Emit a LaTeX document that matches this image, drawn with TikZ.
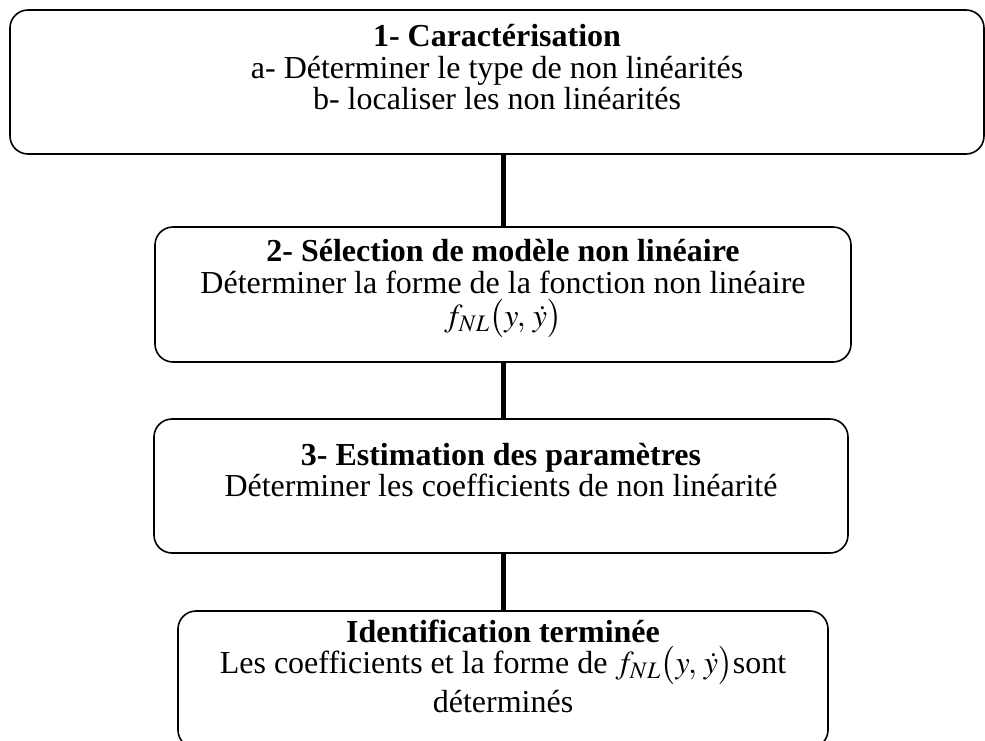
\documentclass[tikz,border=0pt]{standalone}
\usepackage{mathptmx}
\usepackage{fontspec}
\setmainfont{Liberation Serif}
\usetikzlibrary{positioning}
\tikzstyle{stepbox} = [rectangle, draw, line width=1.6pt, rounded corners=18pt, inner sep=0pt]
\tikzstyle{steptext} = [align=center, inner sep=0pt, font=\fontsize{32}{31.5}\selectfont]
\tikzstyle{link} = [line width=5pt]

\begin{document}
\begin{tikzpicture}[x=1pt,y=-1pt]
	\useasboundingbox (0,0) rectangle (985,740);
	% boxes
		\node [stepbox,minimum width=974pt,minimum height=144pt](b1) at (497,82){};
		\node [stepbox,minimum width=696pt,minimum height=135pt](b2) at (503,294.5){};
		\node [stepbox,minimum width=694pt,minimum height=134pt](b3) at (501,486){};
		\node [stepbox,minimum width=650pt,minimum height=137pt](b4) at (503,679.5){};
	% texts
		\node [steptext](t1) at (497,67.5){\textbf{1- Caractérisation}\\a- Déterminer le type de non linéarités\\b- localiser les non linéarités};
		\node [steptext](t2) at (503,288.5){\textbf{2- Sélection de modèle non linéaire}\\Déterminer la forme de la fonction non linéaire\\[2pt]$f_{NL}\bigl(y,\,\dot{y}\bigr)$};
		\node [steptext](t3) at (501,470){\textbf{3- Estimation des paramètres}\\Déterminer les coefficients de non linéarité};
		\node [steptext](t4) at (503,666){\textbf{Identification terminée}\\Les coefficients et la forme de $f_{NL}\bigl(y,\,\dot{y}\bigr)$sont\\[4pt]déterminés};
	% links
		\draw [link](b2.north) -- (b2.north |- b1.south);
		\draw [link](b2.south) -- (b2.south |- b3.north);
		\draw [link](b4.north) -- (b4.north |- b3.south);
\end{tikzpicture}
\end{document}
